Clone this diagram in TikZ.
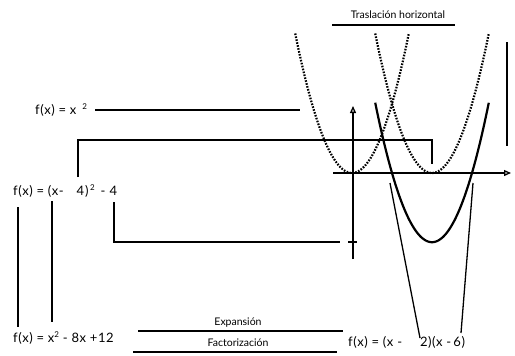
\documentclass[tikz,border=0pt]{standalone}
\usepackage{fontspec}
\setmainfont{Lato}
\usetikzlibrary{arrows.meta}
\begin{document}
\begin{tikzpicture}[x=1pt,y=-1pt,
  ln/.style={line width=1.3pt},
  dots/.style={line width=2.2pt, dash pattern=on 1.6pt off 1.4pt},
  curve/.style={line width=2.2pt},
  axis/.style={line width=1.3pt,-{Triangle[open,length=7pt,width=6pt]}},
  formula/.style={anchor=west, inner sep=0pt, font=\fontsize{13}{15}\selectfont\addfontfeatures{LetterSpace=4}},
  small/.style={inner sep=0pt, font=\fontsize{10.5}{12}\selectfont}]
\useasboundingbox (0,0) rectangle (515,356);
% texts
\node[small] (tras) at (398,15) {Traslación horizontal};
\node[formula] (f1) at (35,110) {f(x) = x\hspace{6pt}\raisebox{0.8ex}{\footnotesize 2}};
\node[formula] (f2) at (13,191) {f(x) = (x-\hspace{13pt}4\hspace{1pt})\hspace{1.5pt}\raisebox{0.8ex}{\footnotesize 2}\hspace{6pt}-\hspace{4pt}4};
\node[formula] (f3) at (13,338) {f(x) = x\raisebox{0.7ex}{\footnotesize 2} - 8x +12};
\node[formula] (f4) at (348,342) {f(x) = (x -\hspace{18pt}2)(x -\,6)};
\node[small] (exp) at (238,323) {Expansión};
\node[small] (fac) at (238,343) {Factorización};
% coordinates
\coordinate (t1) at (332,25); \coordinate (t2) at (455,25);
\coordinate (a1) at (95,110); \coordinate (a2) at (300,110);
\coordinate (b0) at (78,177); \coordinate (b1) at (78,140); \coordinate (b2) at (432,140); \coordinate (b3) at (432,164);
\coordinate (c0) at (114,202); \coordinate (c1) at (114,242); \coordinate (c2) at (340,242);
\coordinate (k1) at (348,242); \coordinate (k2) at (357,242);
\coordinate (v1) at (507,42); \coordinate (v2) at (507,146);
\coordinate (l1a) at (18,207); \coordinate (l1b) at (18,327);
\coordinate (l2a) at (52,201); \coordinate (l2b) at (52,322);
\coordinate (r1a) at (390,183); \coordinate (r1b) at (420,338);
\coordinate (r2a) at (473,183); \coordinate (r2b) at (461,333);
\coordinate (e1) at (138,331); \coordinate (e2) at (343,331);
\coordinate (g1) at (133,352); \coordinate (g2) at (337,352);
\coordinate (xa) at (333,173); \coordinate (xb) at (511,173);
\coordinate (ya) at (353,259); \coordinate (yb) at (353,106);
% lines
\draw[ln] (t1) -- (t2);
\draw[ln] (a1) -- (a2);
\draw[ln] (b0) -- (b1) -- (b2) -- (b3);
\draw[ln] (c0) -- (c1) -- (c2);
\draw[ln] (k1) -- (k2);
\draw[ln] (v1) -- (v2);
\draw[ln] (l1a) -- (l1b);
\draw[ln] (l2a) -- (l2b);
\draw[ln] (r1a) -- (r1b);
\draw[ln] (r2a) -- (r2b);
\draw[ln] (e1) -- (e2);
\draw[ln] (g1) -- (g2);
% axes
\draw[axis] (xa) -- (xb);
\draw[axis] (ya) -- (yb);
% parabolas
\draw[dots] plot[domain=-2.84:2.84, samples=80] ({352+20*\x},{173-17.3*\x*\x});
\draw[dots] plot[domain=-2.84:2.84, samples=80] ({432+20*\x},{173-17.3*\x*\x});
\draw[curve] plot[domain=-2.84:2.84, samples=80] ({432+20*\x},{173-17.3*(\x*\x-4)});
\end{tikzpicture}
\end{document}
